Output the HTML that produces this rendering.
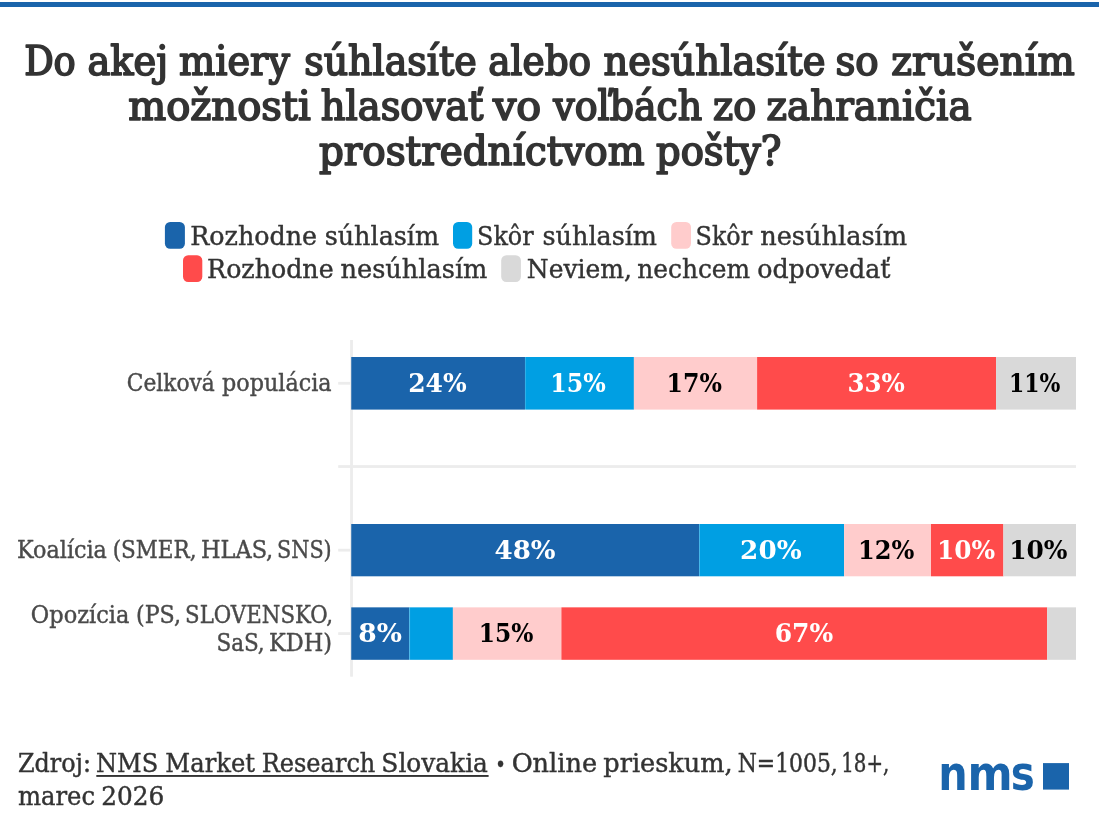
<!DOCTYPE html>
<html lang="sk"><head><meta charset="utf-8"><title>Do akej miery súhlasíte alebo nesúhlasíte so zrušením možnosti hlasovať vo voľbách zo zahraničia prostredníctvom pošty?</title>
<style>html,body{margin:0;padding:0;background:#fff}svg{display:block}text{white-space:pre}</style></head><body>
<svg width="1099" height="816" viewBox="0 0 1099 816">
<rect x="0" y="0" width="1099" height="816" fill="#ffffff"/>
<rect x="0" y="2" width="1099" height="5" fill="#1a64ab"/>
<rect x="164.9" y="221.9" width="20.0" height="26.8" rx="5.2" ry="5.2" fill="#1a64ab"/>
<rect x="453.0" y="221.9" width="19.2" height="26.8" rx="5.2" ry="5.2" fill="#009fe3"/>
<rect x="671.2" y="221.9" width="19.8" height="26.8" rx="5.2" ry="5.2" fill="#ffcccc"/>
<rect x="183.0" y="255.2" width="19.3" height="26.8" rx="5.2" ry="5.2" fill="#ff4b4b"/>
<rect x="501.2" y="255.2" width="19.7" height="26.8" rx="5.2" ry="5.2" fill="#d9d9d9"/>
<rect x="350.15" y="340" width="2.75" height="336.7" fill="#ececec"/>
<rect x="338.2" y="465.15" width="737.8" height="2.75" fill="#ececec"/>
<rect x="338.2" y="381.90" width="12.5" height="2.75" fill="#ececec"/>
<rect x="338.2" y="548.80" width="12.5" height="2.75" fill="#ececec"/>
<rect x="338.2" y="632.20" width="12.5" height="2.75" fill="#ececec"/>
<rect x="351.25" y="357.0" width="173.75" height="52.60" fill="#1a64ab"/>
<rect x="525.0" y="357.0" width="108.90" height="52.60" fill="#009fe3"/>
<rect x="633.9" y="357.0" width="123.20" height="52.60" fill="#ffcccc"/>
<rect x="757.1" y="357.0" width="239.00" height="52.60" fill="#ff4b4b"/>
<rect x="996.1" y="357.0" width="79.90" height="52.60" fill="#d9d9d9"/>
<rect x="351.25" y="524.0" width="347.85" height="52.30" fill="#1a64ab"/>
<rect x="699.1" y="524.0" width="145.00" height="52.30" fill="#009fe3"/>
<rect x="844.1" y="524.0" width="86.90" height="52.30" fill="#ffcccc"/>
<rect x="931.0" y="524.0" width="72.40" height="52.30" fill="#ff4b4b"/>
<rect x="1003.4" y="524.0" width="72.60" height="52.30" fill="#d9d9d9"/>
<rect x="351.25" y="607.35" width="57.95" height="52.45" fill="#1a64ab"/>
<rect x="409.2" y="607.35" width="43.70" height="52.45" fill="#009fe3"/>
<rect x="452.9" y="607.35" width="108.50" height="52.45" fill="#ffcccc"/>
<rect x="561.4" y="607.35" width="485.80" height="52.45" fill="#ff4b4b"/>
<rect x="1047.2" y="607.35" width="28.80" height="52.45" fill="#d9d9d9"/>
<rect x="524.90" y="357.0" width="1" height="53.10" fill="#ffffff" fill-opacity="0.2"/>
<rect x="699.00" y="524.0" width="1" height="52.80" fill="#ffffff" fill-opacity="0.2"/>
<rect x="409.10" y="607.35" width="1" height="52.95" fill="#ffffff" fill-opacity="0.2"/>
<rect x="96.3" y="775.0" width="392.3" height="1.9" fill="#333333"/>
<rect x="1043" y="763.1" width="26" height="26.5" fill="#1a64ab"/>
<text id="t1" y="75" font-family="'DejaVu Serif Condensed','DejaVu Serif','Liberation Serif',serif" font-size="40.2" font-weight="normal" fill="#333333" stroke="#333333" stroke-width="1.65" stroke-linejoin="round"><tspan id="t1.0" x="24.16" textLength="51.58" lengthAdjust="spacingAndGlyphs">Do</tspan> <tspan id="t1.1" x="87.57" textLength="80.50" lengthAdjust="spacingAndGlyphs">akej</tspan> <tspan id="t1.2" x="179.14" textLength="110.81" lengthAdjust="spacingAndGlyphs">miery</tspan> <tspan id="t1.3" x="304.21" textLength="172.44" lengthAdjust="spacingAndGlyphs">súhlasíte</tspan> <tspan id="t1.4" x="488.32" textLength="102.73" lengthAdjust="spacingAndGlyphs">alebo</tspan> <tspan id="t1.5" x="603.42" textLength="222.10" lengthAdjust="spacingAndGlyphs">nesúhlasíte</tspan> <tspan id="t1.6" x="835.44" textLength="43.23" lengthAdjust="spacingAndGlyphs">so</tspan> <tspan id="t1.7" x="891.30" textLength="183.36" lengthAdjust="spacingAndGlyphs">zrušením</tspan></text>
<text id="t2" y="120" font-family="'DejaVu Serif Condensed','DejaVu Serif','Liberation Serif',serif" font-size="40.2" font-weight="normal" fill="#333333" stroke="#333333" stroke-width="1.65" stroke-linejoin="round"><tspan id="t2.0" x="128.20" textLength="182.50" lengthAdjust="spacingAndGlyphs">možnosti</tspan> <tspan id="t2.1" x="320.73" textLength="162.77" lengthAdjust="spacingAndGlyphs">hlasovať</tspan> <tspan id="t2.2" x="492.95" textLength="48.23" lengthAdjust="spacingAndGlyphs">vo</tspan> <tspan id="t2.3" x="553.34" textLength="148.97" lengthAdjust="spacingAndGlyphs">voľbách</tspan> <tspan id="t2.4" x="713.03" textLength="43.17" lengthAdjust="spacingAndGlyphs">zo</tspan> <tspan id="t2.5" x="766.64" textLength="204.95" lengthAdjust="spacingAndGlyphs">zahraničia</tspan></text>
<text id="t3" y="165" font-family="'DejaVu Serif Condensed','DejaVu Serif','Liberation Serif',serif" font-size="40.2" font-weight="normal" fill="#333333" stroke="#333333" stroke-width="1.65" stroke-linejoin="round"><tspan id="t3.0" x="318.92" textLength="325.63" lengthAdjust="spacingAndGlyphs">prostredníctvom</tspan> <tspan id="t3.1" x="655.97" textLength="125.54" lengthAdjust="spacingAndGlyphs">pošty?</tspan></text>
<text id="l1" y="245" font-family="'DejaVu Serif Condensed','DejaVu Serif','Liberation Serif',serif" font-size="26.4" font-weight="normal" fill="#333333" stroke="#333333" stroke-width="0.4" stroke-linejoin="round"><tspan id="l1.0" x="190.23" textLength="126.76" lengthAdjust="spacingAndGlyphs">Rozhodne</tspan> <tspan id="l1.1" x="324.69" textLength="114.43" lengthAdjust="spacingAndGlyphs">súhlasím</tspan></text>
<text id="l2" y="245" font-family="'DejaVu Serif Condensed','DejaVu Serif','Liberation Serif',serif" font-size="26.4" font-weight="normal" fill="#333333" stroke="#333333" stroke-width="0.4" stroke-linejoin="round"><tspan id="l2.0" x="477.10" textLength="56.51" lengthAdjust="spacingAndGlyphs">Skôr</tspan> <tspan id="l2.1" x="542.56" textLength="114.46" lengthAdjust="spacingAndGlyphs">súhlasím</tspan></text>
<text id="l3" y="245" font-family="'DejaVu Serif Condensed','DejaVu Serif','Liberation Serif',serif" font-size="26.4" font-weight="normal" fill="#333333" stroke="#333333" stroke-width="0.4" stroke-linejoin="round"><tspan id="l3.0" x="695.55" textLength="56.56" lengthAdjust="spacingAndGlyphs">Skôr</tspan> <tspan id="l3.1" x="760.20" textLength="146.92" lengthAdjust="spacingAndGlyphs">nesúhlasím</tspan></text>
<text id="l4" y="278" font-family="'DejaVu Serif Condensed','DejaVu Serif','Liberation Serif',serif" font-size="26.4" font-weight="normal" fill="#333333" stroke="#333333" stroke-width="0.4" stroke-linejoin="round"><tspan id="l4.0" x="207.11" textLength="126.51" lengthAdjust="spacingAndGlyphs">Rozhodne</tspan> <tspan id="l4.1" x="340.60" textLength="146.80" lengthAdjust="spacingAndGlyphs">nesúhlasím</tspan></text>
<text id="l5" y="278" font-family="'DejaVu Serif Condensed','DejaVu Serif','Liberation Serif',serif" font-size="26.4" font-weight="normal" fill="#333333" stroke="#333333" stroke-width="0.4" stroke-linejoin="round"><tspan id="l5.0" x="526.86" textLength="105.05" lengthAdjust="spacingAndGlyphs">Neviem,</tspan> <tspan id="l5.1" x="637.35" textLength="112.70" lengthAdjust="spacingAndGlyphs">nechcem</tspan> <tspan id="l5.2" x="757.19" textLength="133.26" lengthAdjust="spacingAndGlyphs">odpovedať</tspan></text>
<text id="c1" y="391" font-family="'DejaVu Serif Condensed','DejaVu Serif','Liberation Serif',serif" font-size="24.1" font-weight="normal" fill="#4a4a4a" stroke="#4a4a4a" stroke-width="0.4" stroke-linejoin="round"><tspan id="c1.0" x="126.83" textLength="87.99" lengthAdjust="spacingAndGlyphs">Celková</tspan> <tspan id="c1.1" x="222.10" textLength="109.50" lengthAdjust="spacingAndGlyphs">populácia</tspan></text>
<text id="c2" y="558" font-family="'DejaVu Serif Condensed','DejaVu Serif','Liberation Serif',serif" font-size="24.1" font-weight="normal" fill="#4a4a4a" stroke="#4a4a4a" stroke-width="0.4" stroke-linejoin="round"><tspan id="c2.0" x="17.05" textLength="89.87" lengthAdjust="spacingAndGlyphs">Koalícia</tspan> <tspan id="c2.1" x="112.65" textLength="83.84" lengthAdjust="spacingAndGlyphs">(SMER,</tspan> <tspan id="c2.2" x="201.01" textLength="72.22" lengthAdjust="spacingAndGlyphs">HLAS,</tspan> <tspan id="c2.3" x="277.05" textLength="54.68" lengthAdjust="spacingAndGlyphs">SNS)</tspan></text>
<text id="c3" y="623" font-family="'DejaVu Serif Condensed','DejaVu Serif','Liberation Serif',serif" font-size="24.1" font-weight="normal" fill="#4a4a4a" stroke="#4a4a4a" stroke-width="0.4" stroke-linejoin="round"><tspan id="c3.0" x="30.88" textLength="98.44" lengthAdjust="spacingAndGlyphs">Opozícia</tspan> <tspan id="c3.1" x="136.01" textLength="44.94" lengthAdjust="spacingAndGlyphs">(PS,</tspan> <tspan id="c3.2" x="185.11" textLength="147.95" lengthAdjust="spacingAndGlyphs">SLOVENSKO,</tspan></text>
<text id="c4" y="651" font-family="'DejaVu Serif Condensed','DejaVu Serif','Liberation Serif',serif" font-size="24.1" font-weight="normal" fill="#4a4a4a" stroke="#4a4a4a" stroke-width="0.4" stroke-linejoin="round"><tspan id="c4.0" x="216.42" textLength="48.30" lengthAdjust="spacingAndGlyphs">SaS,</tspan> <tspan id="c4.1" x="269.06" textLength="63.08" lengthAdjust="spacingAndGlyphs">KDH)</tspan></text>
<text id="v11" x="408.21" y="392" font-family="'DejaVu Serif Condensed','DejaVu Serif','Liberation Serif',serif" font-size="26.5" font-weight="bold" fill="#ffffff" textLength="58.47" lengthAdjust="spacingAndGlyphs">24%</text>
<text id="v12" x="550.31" y="392" font-family="'DejaVu Serif Condensed','DejaVu Serif','Liberation Serif',serif" font-size="26.5" font-weight="bold" fill="#ffffff" textLength="55.58" lengthAdjust="spacingAndGlyphs">15%</text>
<text id="v13" x="666.55" y="392" font-family="'DejaVu Serif Condensed','DejaVu Serif','Liberation Serif',serif" font-size="26.5" font-weight="bold" fill="#000000" textLength="55.33" lengthAdjust="spacingAndGlyphs">17%</text>
<text id="v14" x="847.41" y="392" font-family="'DejaVu Serif Condensed','DejaVu Serif','Liberation Serif',serif" font-size="26.5" font-weight="bold" fill="#ffffff" textLength="57.41" lengthAdjust="spacingAndGlyphs">33%</text>
<text id="v15" x="1009.01" y="392" font-family="'DejaVu Serif Condensed','DejaVu Serif','Liberation Serif',serif" font-size="26.5" font-weight="bold" fill="#000000" textLength="51.35" lengthAdjust="spacingAndGlyphs">11%</text>
<text id="v21" x="494.53" y="559" font-family="'DejaVu Serif Condensed','DejaVu Serif','Liberation Serif',serif" font-size="26.5" font-weight="bold" fill="#ffffff" textLength="60.98" lengthAdjust="spacingAndGlyphs">48%</text>
<text id="v22" x="740.13" y="559" font-family="'DejaVu Serif Condensed','DejaVu Serif','Liberation Serif',serif" font-size="26.5" font-weight="bold" fill="#ffffff" textLength="61.44" lengthAdjust="spacingAndGlyphs">20%</text>
<text id="v23" x="858.03" y="559" font-family="'DejaVu Serif Condensed','DejaVu Serif','Liberation Serif',serif" font-size="26.5" font-weight="bold" fill="#000000" textLength="56.33" lengthAdjust="spacingAndGlyphs">12%</text>
<text id="v24" x="937.02" y="559" font-family="'DejaVu Serif Condensed','DejaVu Serif','Liberation Serif',serif" font-size="26.5" font-weight="bold" fill="#ffffff" textLength="58.20" lengthAdjust="spacingAndGlyphs">10%</text>
<text id="v25" x="1009.17" y="559" font-family="'DejaVu Serif Condensed','DejaVu Serif','Liberation Serif',serif" font-size="26.5" font-weight="bold" fill="#000000" textLength="58.39" lengthAdjust="spacingAndGlyphs">10%</text>
<text id="v31" x="358.20" y="642" font-family="'DejaVu Serif Condensed','DejaVu Serif','Liberation Serif',serif" font-size="26.5" font-weight="bold" fill="#ffffff" textLength="43.63" lengthAdjust="spacingAndGlyphs">8%</text>
<text id="v32" x="478.69" y="642" font-family="'DejaVu Serif Condensed','DejaVu Serif','Liberation Serif',serif" font-size="26.5" font-weight="bold" fill="#000000" textLength="54.64" lengthAdjust="spacingAndGlyphs">15%</text>
<text id="v33" x="774.72" y="642" font-family="'DejaVu Serif Condensed','DejaVu Serif','Liberation Serif',serif" font-size="26.5" font-weight="bold" fill="#ffffff" textLength="58.42" lengthAdjust="spacingAndGlyphs">67%</text>
<text id="f1" x="17.90" y="772" font-family="'DejaVu Serif Condensed','DejaVu Serif','Liberation Serif',serif" font-size="26" font-weight="normal" fill="#333333" stroke="#333333" stroke-width="0.4" stroke-linejoin="round" textLength="73.11" lengthAdjust="spacingAndGlyphs">Zdroj:</text>
<text id="f2" y="772" font-family="'DejaVu Serif Condensed','DejaVu Serif','Liberation Serif',serif" font-size="26" font-weight="normal" fill="#333333" stroke="#333333" stroke-width="0.4" stroke-linejoin="round"><tspan id="f2.0" x="96.09" textLength="62.14" lengthAdjust="spacingAndGlyphs">NMS</tspan> <tspan id="f2.1" x="165.37" textLength="89.71" lengthAdjust="spacingAndGlyphs">Market</tspan> <tspan id="f2.2" x="261.67" textLength="113.71" lengthAdjust="spacingAndGlyphs">Research</tspan> <tspan id="f2.3" x="381.38" textLength="106.55" lengthAdjust="spacingAndGlyphs">Slovakia</tspan></text>
<text id="f3" x="494.37" y="781" font-family="'DejaVu Serif Condensed','DejaVu Serif','Liberation Serif',serif" font-size="48" font-weight="normal" fill="#333333" stroke="#333333" stroke-width="0.4" stroke-linejoin="round" textLength="12.66" lengthAdjust="spacingAndGlyphs">·</text>
<text id="f4" y="772" font-family="'DejaVu Serif Condensed','DejaVu Serif','Liberation Serif',serif" font-size="26" font-weight="normal" fill="#333333" stroke="#333333" stroke-width="0.4" stroke-linejoin="round"><tspan id="f4.0" x="511.66" textLength="85.40" lengthAdjust="spacingAndGlyphs">Online</tspan> <tspan id="f4.1" x="603.30" textLength="129.43" lengthAdjust="spacingAndGlyphs">prieskum,</tspan> <tspan id="f4.2" x="737.68" textLength="100.11" lengthAdjust="spacingAndGlyphs">N=1005,</tspan> <tspan id="f4.3" x="841.28" textLength="48.06" lengthAdjust="spacingAndGlyphs">18+,</tspan></text>
<text id="f5" y="805" font-family="'DejaVu Serif Condensed','DejaVu Serif','Liberation Serif',serif" font-size="26" font-weight="normal" fill="#333333" stroke="#333333" stroke-width="0.4" stroke-linejoin="round"><tspan id="f5.0" x="17.90" textLength="77.10" lengthAdjust="spacingAndGlyphs">marec</tspan> <tspan id="f5.1" x="101.15" textLength="63.00" lengthAdjust="spacingAndGlyphs">2026</tspan></text>
<text id="logo" y="789.6" font-family="'DejaVu Sans Condensed','DejaVu Sans','Liberation Sans',sans-serif" font-size="48" font-weight="bold" fill="#1a64ab"><tspan id="lg1" x="938.30" textLength="29.46" lengthAdjust="spacingAndGlyphs">n</tspan><tspan id="lg2" x="967.60" textLength="45.12" lengthAdjust="spacingAndGlyphs">m</tspan><tspan id="lg3" x="1010.82" textLength="24.03" lengthAdjust="spacingAndGlyphs">s</tspan></text>
</svg></body></html>
